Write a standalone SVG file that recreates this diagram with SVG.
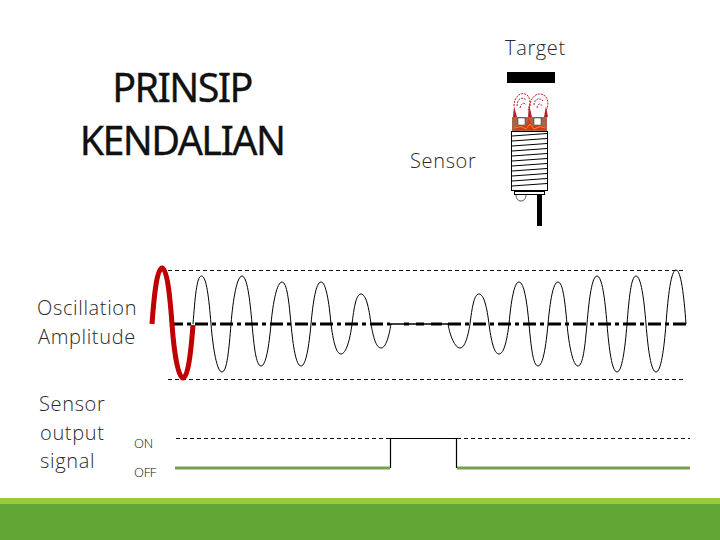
<svg xmlns="http://www.w3.org/2000/svg" width="720" height="540" viewBox="0 0 720 540">
<style>
text{font-family:"Open Sans","Noto Sans","Liberation Sans",sans-serif;fill:#2a2a2a;font-weight:300}
.lbl{font-size:20px;letter-spacing:.65px}
.title{font-family:"Noto Sans","Liberation Sans",sans-serif;font-size:39.500px;fill:#111;stroke:#111;stroke-width:.3;font-weight:400;text-anchor:middle;letter-spacing:-1.600px}
.small{font-size:13px;letter-spacing:-.3px;fill:#111}
.dash{fill:none;stroke:#111;stroke-width:1;stroke-dasharray:4 3}
.wave{fill:none;stroke:#000;stroke-width:1}
.coil{stroke:#000;stroke-width:1;fill:none}
.flame{fill:none;stroke:#b5202a;stroke-width:1;stroke-dasharray:2 1}
.off{stroke:#76a04f;stroke-width:3;fill:none}
</style>
<rect width="720" height="540" fill="#fff"/>
<g id="footer"><rect y="498" width="720" height="6" fill="#99cb3f"/><rect y="504" width="720" height="36" fill="#62a636"/></g>
<g id="title"><text class="title" x="182" y="102">PRINSIP</text><text class="title" x="182" y="155">KENDALIAN</text></g>
<g id="labels">
<text class="lbl" x="505" y="55">Target</text>
<text class="lbl" x="410" y="168">Sensor</text>
<text class="lbl" x="37" y="315">Oscillation</text>
<text class="lbl" x="38" y="344">Amplitude</text>
<text class="lbl" x="39" y="411">Sensor</text>
<text class="lbl" x="40" y="440">output</text>
<text class="lbl" x="40" y="468">signal</text>
<text class="small" x="134" y="448">ON</text>
<text class="small" x="134" y="477">OFF</text>
</g>
<g id="sensor">
<rect x="507" y="72" width="48" height="11" fill="#000"/>
<path class="flame" d="M514 106C514 96 522 90 528 96C531 100 530 106 528 110M517 106C517 99 522 96 526 100M520 108C521 103 524 102 526 105M530 106C530 96 540 90 546 97C549 101 548 108 546 110M534 105C534 99 540 97 543 101M537 108C538 103 541 103 542 106"/>
<path d="M513 117L514 106 517 117ZM528 117L529 104 532 117ZM544 117L546 106 548 117Z" fill="#b5202a"/>
<rect x="512" y="117" width="35" height="14" fill="#a8654a"/>
<path d="M514 130L517 126 526 126 529 118 532 126 544 126 546 130Z" fill="#d63a12"/>
<path d="M515 128L521 126.500 526 129 530 124 534 129 540 126.500 545 128" fill="none" stroke="#e8901c" stroke-width="1"/>
<rect x="518" y="118" width="7" height="7" fill="#fff" stroke="#333" stroke-width=".5"/>
<rect x="534" y="118" width="7" height="7" fill="#fff" stroke="#333" stroke-width=".5"/>
<rect x="511.500" y="131.500" width="36" height="59" fill="#fff" stroke="#000"/>
<path class="coil" d="M512 136L547 133.500M512 141L547 138.500M512 146L547 143.500M512 151L547 148.500M512 156L547 153.500M512 161L547 158.500M512 166L547 163.500M512 171L547 168.500M512 176L547 173.500M512 181L547 178.500M512 186L547 183.500"/>
<rect x="514.500" y="191.500" width="30" height="3" fill="#fff" stroke="#000"/>
<path d="M516 195C516 203 526 203 526 195" fill="none" stroke="#222" stroke-width=".8"/>
<rect x="537" y="195" width="5" height="31" fill="#000"/>
</g>
<g id="connectors">
<path class="dash" d="M168 270.500H685M168 379.500H683"/>
<path d="M170 324H390M448 324H686" fill="none" stroke="#000" stroke-width="3" stroke-dasharray="13 4 4 4"/>
<path d="M390 324H448" fill="none" stroke="#000" stroke-width="1.500"/>
<path d="M404 324H409M416 324H424M431 324H442" fill="none" stroke="#000" stroke-width="3"/>
<path class="wave" d="M193 324C195 299 196.500 276 201.500 276C206.500 276 209 299 211 324C213 349 217 372 222 372C227 372 229 349 231 324C233 299 237 276 242 276C247 276 250 299 252 324C254 346 256 366 261 366C266 366 269 346 271 324C273 302 277 282 282 282C287 282 289 302 291 324C293 346 296 366 301 366C306 366 309 346 311 324C313 302 316 282 321 282C326 282 329 302 331 324C333 340 336 354 341 354C346 354 350 340 352 324C354 308 356 294 361 294C366 294 369 308 371 324C373 336 376 348 381 348C386 348 389 336 391 324"/>
<path class="wave" d="M448 324C450 336 455 348 460 348C465 348 468 336 470 324C472 308 474 294 479 294C484 294 487 308 489 324C491 340 494 354 499 354C504 354 507 340 509 324C511 302 514 282 519 282C524 282 527 302 529 324C531 346 533 366 538 366C543 366 546 346 548 324C550 302 553 282 558 282C563 282 565 302 567 324C569 346 573 366 578 366C583 366 585 346 587 324C589 299 592 276 597 276C602 276 605 299 607 324C609 349 612 372 617 372C622 372 625 349 627 324C629 299 631 276 636 276C641 276 644 299 646 324C648 349 651 372 656 372C661 372 664 349 666 324C668 296 671 270 676 270C681 270 684 296 686 324"/>
<path d="M152 324C154 296 157 268 162 268C167 268 170 296 172 324C174 352 178 378 183 378C188 378 191 352 193 325" fill="none" stroke="#c00000" stroke-width="5"/>
<path class="dash" d="M176 438.500H390M457 438.500H690"/>
<path d="M390.500 468V438.500H456.500V468" fill="none" stroke="#000" stroke-width="1.200"/>
<path class="off" d="M175 468H390M457 468H690"/>
</g>
</svg>
